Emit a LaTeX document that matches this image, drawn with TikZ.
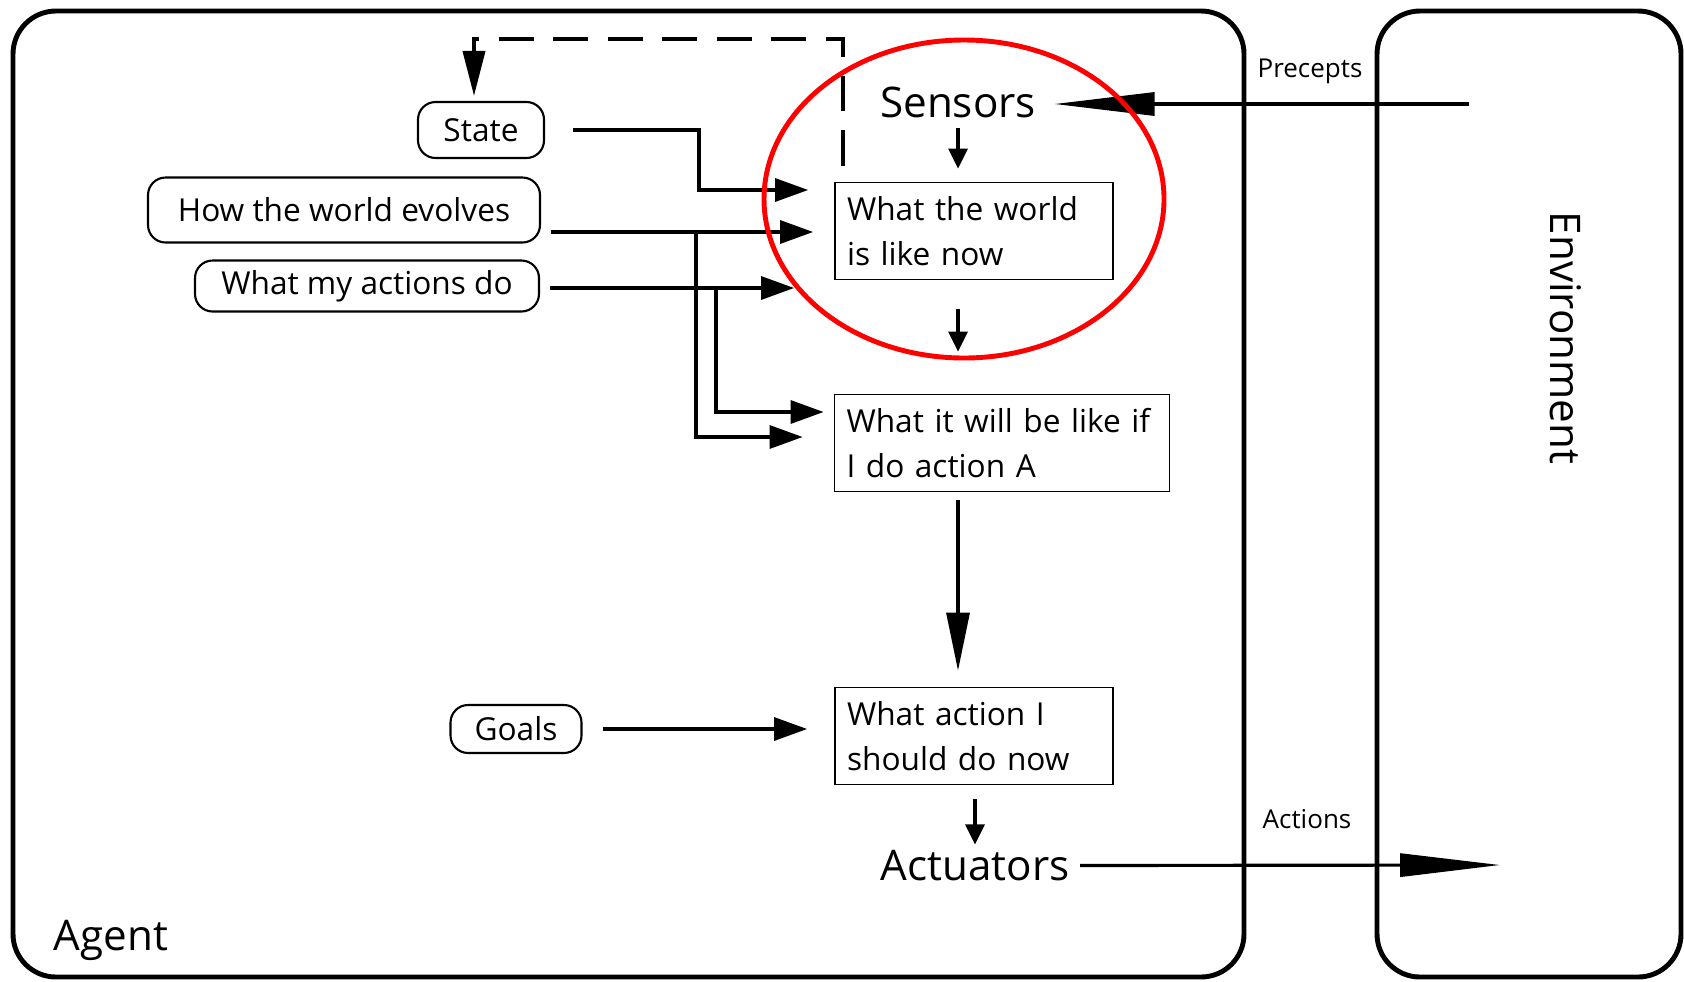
\documentclass[tikz,border=0pt]{standalone}
\usepackage{fontspec}
\setmainfont{Open Sans}
\usetikzlibrary{arrows.meta,positioning}

\begin{document}
\begin{tikzpicture}[line cap=butt,
    box/.style={draw,line width=.5pt,minimum height=.97cm,align=left,inner xsep=.12cm,font=\fontsize{9}{12.8}\selectfont},
    memo/.style={draw,line width=.6pt,rounded corners=5pt,inner sep=0pt,font=\fontsize{9}{11}\selectfont},
    link/.style={line width=.9pt},
    big/.style={inner sep=0pt,font=\fontsize{12}{14}\selectfont},
    note/.style={inner sep=0pt,font=\fontsize{7.4}{9}\selectfont}]
  \useasboundingbox (0,0) rectangle (16.84,-9.81);

  % agent and environment frames
  \draw[line width=1.4pt,rounded corners=.43cm] (.13,-.11) rectangle (12.44,-9.77);
  \draw[line width=1.4pt,rounded corners=.43cm] (13.77,-.11) rectangle (16.81,-9.77);
  \node[big] (agent) at (1.11,-9.40) {Agent};
  \node[big,rotate=-90] (env) at (15.66,-3.38) {Environment};
  \node[note] (precepts) at (13.10,-.71) {Precepts};
  \node[note] (actlabel) at (13.07,-8.19) {Actions};

  % agent internals
  \node[big] (sensors) at (9.58,-1.02) {Sensors};
  \node[box,minimum width=2.78cm,text width=2.54cm] (now) at (9.74,-2.31) {What the world\\is like now};
  \node[box,minimum width=3.35cm,text width=3.11cm] (ifdo) at (10.02,-4.43) {What it will be like if\\I do action A};
  \node[box,minimum width=2.78cm,text width=2.54cm] (todo) at (9.74,-7.36) {What action I\\should do now};
  \node[big] (actuators) at (9.75,-8.655) {Actuators};

  \node[memo,minimum width=1.26cm,minimum height=.56cm] (state) at (4.81,-1.30) {State};
  \node[memo,minimum width=3.92cm,minimum height=.65cm] (evolves) at (3.44,-2.10) {How the world evolves};
  \node[memo,minimum width=3.44cm,minimum height=.51cm] (effects) at (3.67,-2.86) {What my actions do};
  \node[memo,minimum width=1.31cm,minimum height=.48cm] (goals) at (5.16,-7.29) {Goals};

  \coordinate (percept) at (14.69,-1.04);
  \coordinate (act) at (15.00,-8.65);
  \coordinate (fork1) at (6.96,-2.32);
  \coordinate (fork2) at (7.16,-2.88);

  % flow
  \draw[link,-{Triangle[length=1cm,width=.23cm]},shorten >=.18cm] (percept) -- (sensors.east |- percept);
  \draw[link,-{Triangle[length=.2cm,width=.19cm]},shorten <=.1cm,shorten >=.13cm] (sensors.south) -- (sensors.south |- now.north);
  \draw[link,-{Triangle[length=.2cm,width=.19cm]},shorten <=.29cm,shorten >=.42cm] (sensors |- now.south) -- (sensors |- ifdo.north);
  \draw[link,-{Triangle[length=.58cm,width=.23cm]},shorten <=.08cm,shorten >=.16cm] (sensors |- ifdo.south) -- (sensors |- todo.north);
  \draw[link,-{Triangle[length=.2cm,width=.19cm]},shorten <=.14cm,shorten >=.05cm] (actuators |- todo.south) -- (actuators.north);
  \draw[link,-{Triangle[length=1cm,width=.23cm]},shorten <=.1cm] (actuators.east) -- (act);

  % inputs
  \draw[link,-{Triangle[length=.33cm,width=.23cm]},shorten <=.28cm,shorten >=.26cm] (state.east) -- ++(1.54,0) |- ([yshift=.41cm]now.west);
  \draw[link,-{Triangle[length=.33cm,width=.23cm]},shorten <=.1cm,shorten >=.21cm] (evolves.east |- fork1) -- (now.west |- fork1);
  \draw[link,-{Triangle[length=.33cm,width=.23cm]},shorten >=.31cm] (fork1) |- ([yshift=.06cm]ifdo.west);
  \draw[link,-{Triangle[length=.33cm,width=.23cm]},shorten <=.1cm,shorten >=.4cm] (effects.east |- fork2) -- (now.west |- fork2);
  \draw[link,-{Triangle[length=.33cm,width=.23cm]},shorten >=.1cm] (fork2) |- ([yshift=.31cm]ifdo.west);
  \draw[link,-{Triangle[length=.33cm,width=.23cm]},shorten <=.2cm,shorten >=.27cm] (goals.east) -- (goals.east -| todo.west);
  \draw[line width=1.1pt,dash pattern=on 10pt off 5.5pt,-{Triangle[length=.45cm,width=.22cm]},shorten <=.16cm,shorten >=.05cm]
    ([xshift=.085cm]now.north west) -- ++(0,1.43) -| ([xshift=-.07cm]state.north);

  % highlight
  \draw[red,line width=1.4pt] (9.64,-1.99) ellipse [x radius=2cm,y radius=1.59cm];
\end{tikzpicture}
\end{document}
